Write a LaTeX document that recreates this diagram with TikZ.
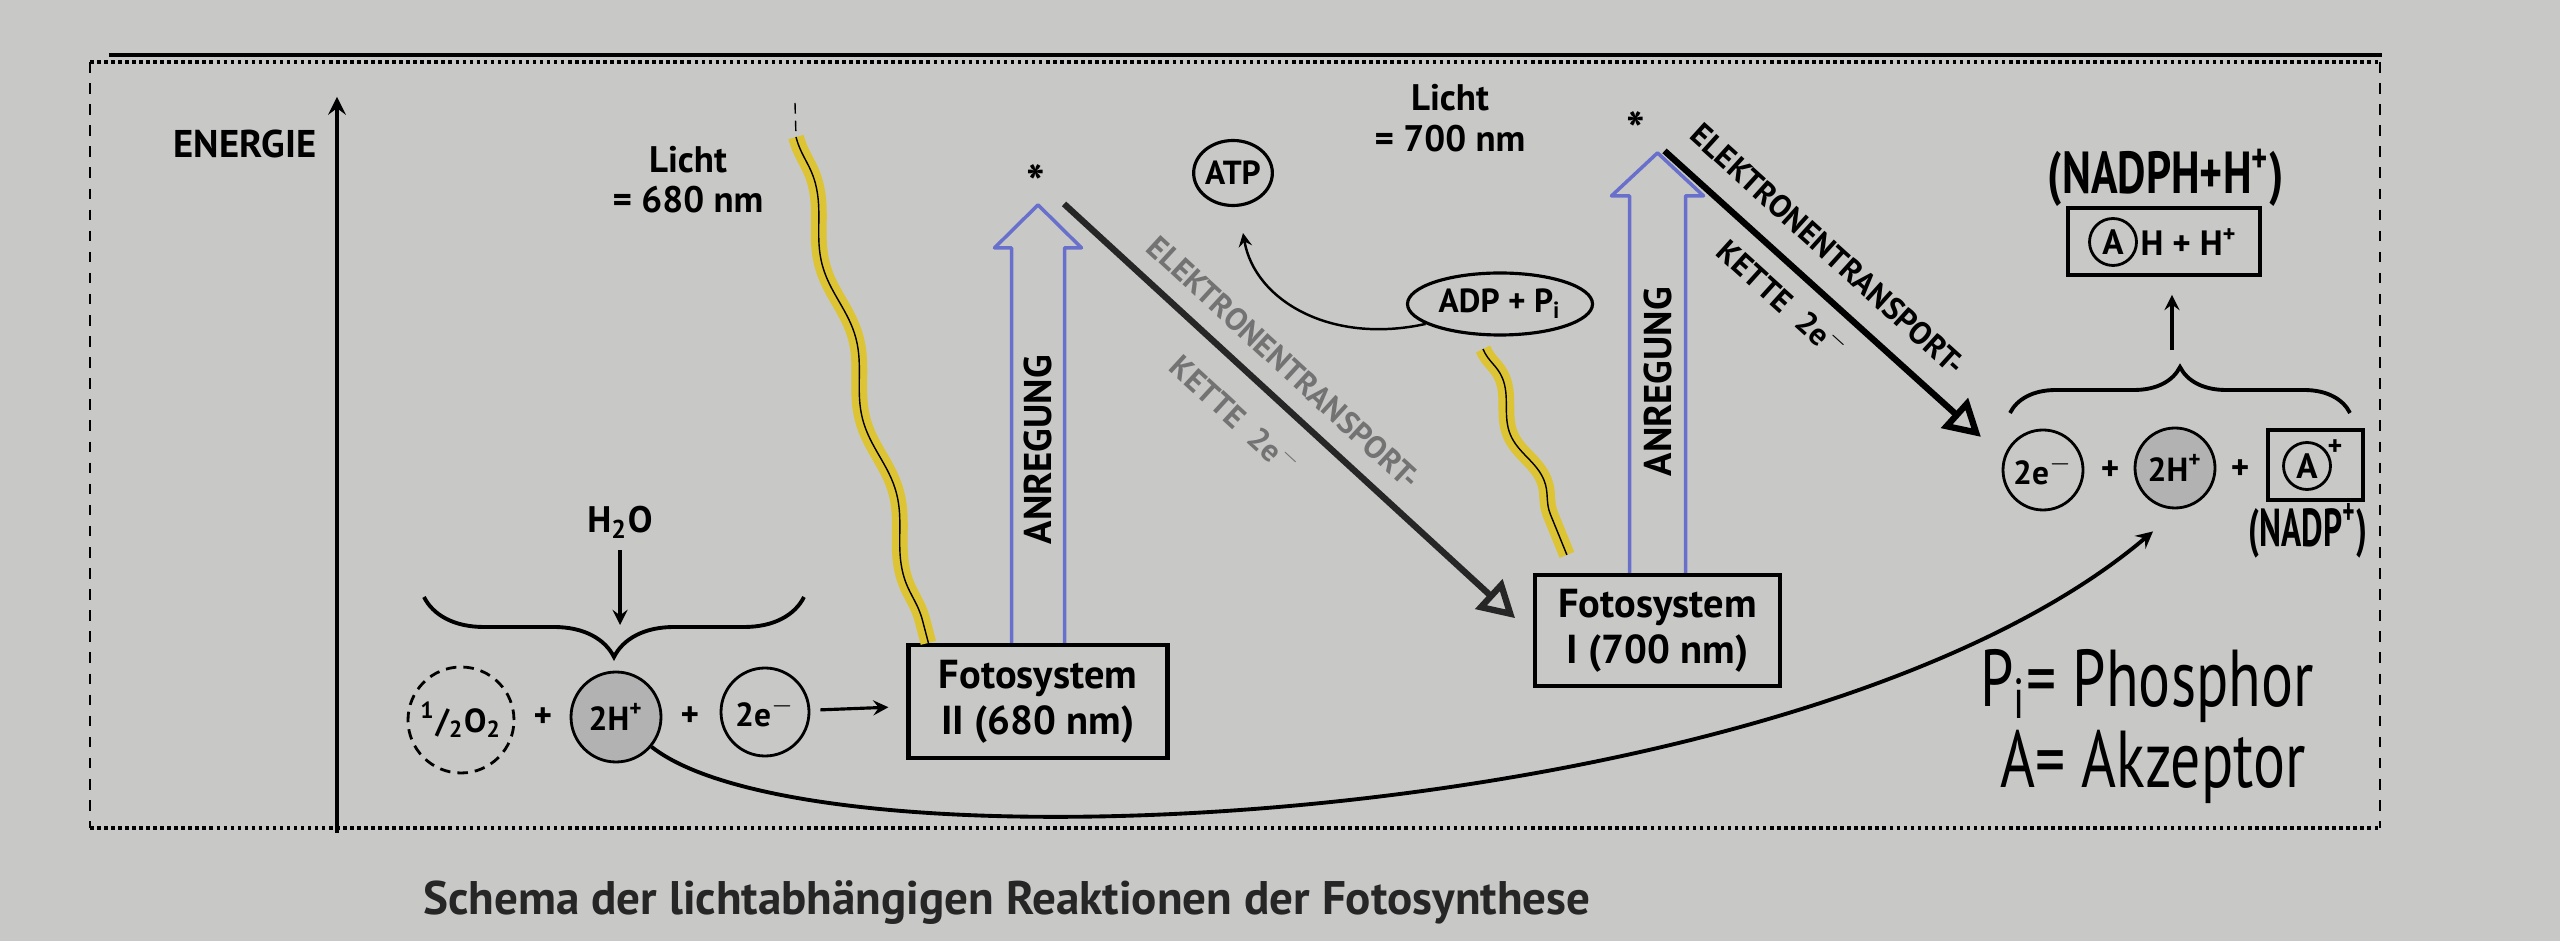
\documentclass[tikz,border=0pt]{standalone}
\usepackage{fontspec}
\setmainfont{PT Sans}
\usepackage{tikz}
\usetikzlibrary{arrows}
\usetikzlibrary{shapes}
\usetikzlibrary{calc}
\usetikzlibrary{decorations}
\usetikzlibrary{decorations.pathmorphing}
\usetikzlibrary{decorations.pathreplacing}
\usetikzlibrary{positioning}

\definecolor{paper}{RGB}{200,201,199}
\definecolor{hilite}{RGB}{221,196,52}
\definecolor{pencil}{RGB}{104,112,204}

\begin{document}
\begin{tikzpicture}[>=stealth,
    fsbox/.style={draw, line width=1.2pt, align=center, font=\fontsize{11.5}{13}\selectfont\bfseries},
    blob/.style={draw, circle, line width=0.8pt, inner sep=0pt, minimum size=0.9cm, font=\fontsize{9.5}{11}\selectfont\bfseries},
    etc/.style={line width=1.8pt, -open triangle 60},
    etctext/.style={sloped, inner sep=0pt, font=\fontsize{9}{10}\selectfont\bfseries},
    licht/.style={decorate, decoration={snake, amplitude=0.7mm, segment length=1.6cm}},
    anr/.style={draw=pencil, line width=1pt, line join=round},
    hand/.style={inner sep=0pt, font=\fontsize{17}{19}\selectfont}]

      \fill[paper] (0, 0) rectangle (25.6, 9.41);
      \useasboundingbox (0, 0) rectangle (25.6, 9.41);

      \draw[line width=1.2pt] (1.09, 8.86) -- (23.82, 8.86);
      \draw[densely dotted, line width=1pt] (0.90, 8.79) -- (23.80, 8.79) (0.90, 1.13) -- (23.80, 1.13);
      \draw[dashed, line width=0.5pt] (0.90, 8.79) -- (0.90, 1.13) (23.80, 8.79) -- (23.80, 1.13);

      \node[font=\fontsize{11}{12}\selectfont\bfseries] (energie) at (2.45, 7.97) {ENERGIE};
      \coordinate (ax0) at (3.37, 1.08);
      \coordinate (ax1) at (3.37, 8.44);
      \draw[->, line width=1.2pt] (ax0) -- (ax1);

      \node[fsbox, minimum width=2.59cm, minimum height=1.13cm] (fs2) at (10.38, 2.395) {Fotosystem\\II (680 nm)};
      \node[fsbox, minimum width=2.45cm, minimum height=1.11cm] (fs1) at (16.575, 3.105) {Fotosystem\\I (700 nm)};

      \node[align=center, font=\fontsize{10.5}{11.5}\selectfont\bfseries] (licht1) at (6.88, 7.615) {Licht\\= 680 nm};
      \coordinate (l1top) at (7.95, 8.38);
      \coordinate (l1mid) at (7.96, 8.04);
      \coordinate (l1bot) at ($(fs2.north west)+(0.22, 0)$);
      \draw[hilite, line width=4.5pt, licht] (l1mid) -- (l1bot);
      \draw[line width=0.4pt, licht] (l1mid) -- (l1bot);
      \draw[densely dashed, line width=0.4pt] (l1top) -- (l1mid);

      \node[align=center, font=\fontsize{10.5}{11.5}\selectfont\bfseries] (licht2) at (14.5, 8.23) {Licht\\= 700 nm};
      \coordinate (l2top) at (14.83, 5.92);
      \coordinate (l2bot) at ($(fs1.north west)+(0.34, 0.18)$);
      \draw[hilite, line width=4.5pt, licht, decoration={segment length=1.1cm}] (l2top) -- (l2bot);
      \draw[line width=0.4pt, licht, decoration={segment length=1.1cm}] (l2top) -- (l2bot);

      \draw[anr] ($(fs2.north)+(-0.265, 0)$) |- ++(-0.17, 3.95) -- ($(fs2.north)+(0, 4.38)$) -- ++(0.435, -0.43) -- ++(-0.17, 0) -- ($(fs2.north)+(0.265, 0)$);
      \node[rotate=90, font=\fontsize{11}{12}\selectfont\bfseries] (anr2) at ($(fs2.north)+(0, 1.93)$) {ANREGUNG};
      \node[font=\fontsize{14}{14}\selectfont\bfseries] (star2) at (10.36, 7.58) {*};

      \draw[anr] ($(fs1.north)+(-0.28, 0)$) |- ++(-0.18, 3.77) -- ($(fs1.north)+(0, 4.20)$) -- ++(0.46, -0.43) -- ++(-0.18, 0) -- ($(fs1.north)+(0.28, 0)$);
      \node[rotate=90, font=\fontsize{11}{12}\selectfont\bfseries] (anr1) at ($(fs1.north)+(0, 1.91)$) {ANREGUNG};
      \node[font=\fontsize{14}{14}\selectfont\bfseries] (star1) at (16.36, 8.11) {*};

      \node[blob, minimum size=0.8cm] (e2r) at (20.43, 4.71) {2e$^-$};
      \node[font=\bfseries] (p3) at (21.10, 4.70) {+};
      \node[blob, minimum size=0.8cm, fill=black!30] (h2r) at (21.75, 4.73) {2H\textsuperscript{+}};
      \node[font=\bfseries] (p4) at (22.40, 4.71) {+};
      \node[draw, line width=1pt, minimum width=0.95cm, minimum height=0.70cm] (abox) at (23.155, 4.76) {};
      \node[draw, circle, line width=0.8pt, inner sep=0pt, minimum size=0.47cm, font=\bfseries] (acirc) at (23.07, 4.75) {A};
      \node[inner sep=0pt, font=\footnotesize\bfseries] (aplus) at (23.35, 4.93) {+};

      \coordinate (etc1a) at ($(fs2.north)+(0.26, 4.39)$);
      \coordinate (etc1b) at ($(fs1.west)+(-0.18, 0.125)$);
      \draw[etc, black!85] (etc1a) -- (etc1b)
        node[etctext, pos=0.44, above=0.17cm, text=black!55] (etc1t) {ELEKTRONENTRANSPORT-}
        node[etctext, pos=0.44, below=0.22cm, text=black!55] (etc1k) {KETTE\ \ 2e$^-$};

      \coordinate (etc2a) at ($(fs1.north)+(0.07, 4.22)$);
      \coordinate (etc2b) at ($(e2r.north west)+(-0.33, 0.04)$);
      \draw[etc] (etc2a) -- (etc2b)
        node[etctext, pos=0.44, above=0.22cm] (etc2t) {ELEKTRONENTRANSPORT-}
        node[etctext, pos=0.44, below=0.13cm] (etc2k) {KETTE\ \ 2e$^-$};

      \node[draw, ellipse, line width=0.9pt, inner sep=0pt, minimum width=0.78cm, minimum height=0.65cm, font=\fontsize{9.5}{11}\selectfont\bfseries] (atp) at (12.33, 7.68) {ATP};
      \node[draw, ellipse, line width=0.9pt, inner sep=0pt, minimum width=1.85cm, minimum height=0.62cm, font=\fontsize{9.5}{11}\selectfont\bfseries] (adp) at (15.00, 6.37) {ADP + P\textsubscript{i}};
      \draw[->, line width=0.7pt] (adp.195) .. controls (13.30, 5.96) and (12.55, 6.41) .. ($(atp.south)+(0.1, -0.26)$);

      \node[font=\fontsize{10.5}{12}\selectfont\bfseries] (h2o) at (6.20, 4.19) {H\textsubscript{2}O};
      \coordinate (br1) at (6.20, 3.16);
      \draw[->, line width=0.9pt] (h2o) -- (br1);
      \draw[decorate, decoration={brace, amplitude=0.6cm}, line width=1.1pt] (8.04, 3.44) -- (4.24, 3.44);

      \node[blob, minimum size=1.06cm, densely dashed] (o2) at (4.61, 2.21) {\textsuperscript{1}/\textsubscript{2}O\textsubscript{2}};
      \node[font=\bfseries] (p1) at (5.43, 2.23) {+};
      \node[blob, fill=black!30] (h2l) at (6.16, 2.24) {2H\textsuperscript{+}};
      \node[font=\bfseries] (p2) at (6.90, 2.24) {+};
      \node[blob, minimum size=0.88cm] (e2l) at (7.65, 2.29) {2e$^-$};
      \draw[->, line width=0.9pt, shorten <=0.1cm, shorten >=0.18cm] (e2l) -- (fs2);

      \draw[->, line width=1.1pt] (h2l.-40) .. controls (8.20, 0.61) and (18.00, 1.11) .. ($(h2r.south)+(-0.22, -0.22)$);

      \draw[decorate, decoration={brace, amplitude=0.46cm}, line width=1.1pt] (20.10, 5.28) -- (23.50, 5.28);
      \node[draw, line width=1.1pt, minimum width=1.92cm, minimum height=0.67cm] (nadph) at (21.64, 6.995) {};
      \node[draw, circle, line width=0.8pt, inner sep=0pt, minimum size=0.47cm, font=\bfseries] (ah) at (21.13, 6.99) {A};
      \node[right=0.02cm of ah, inner sep=0pt, font=\bfseries] (hh) {H + H\textsuperscript{+}};
      \coordinate (br2) at (21.72, 5.91);
      \draw[->, line width=0.9pt, shorten >=0.18cm] (br2) -- (br2 |- nadph.south);

      \node[hand, font=\fontsize{12.5}{14}\selectfont\bfseries] (nadphh) at (21.66, 7.63) {\scalebox{1}[1.35]{(NADPH+H\textsuperscript{+})}};
      \node[hand, font=\fontsize{9.5}{11}\selectfont\bfseries] (nadpp) at (23.08, 4.10) {\scalebox{1}[1.6]{(NADP\textsuperscript{+})}};
      \node[hand] (phos) at (21.47, 2.55) {\scalebox{1}[1.35]{P\textsubscript{i}= Phosphor}};
      \node[hand] (akz) at (21.53, 1.74) {\scalebox{1}[1.35]{A= Akzeptor}};

      \node[font=\fontsize{13.4}{15}\selectfont\bfseries, text=black!85] (caption) at (10.07, 0.38) {Schema der lichtabhängigen Reaktionen der Fotosynthese};
    \end{tikzpicture}
\end{document}
